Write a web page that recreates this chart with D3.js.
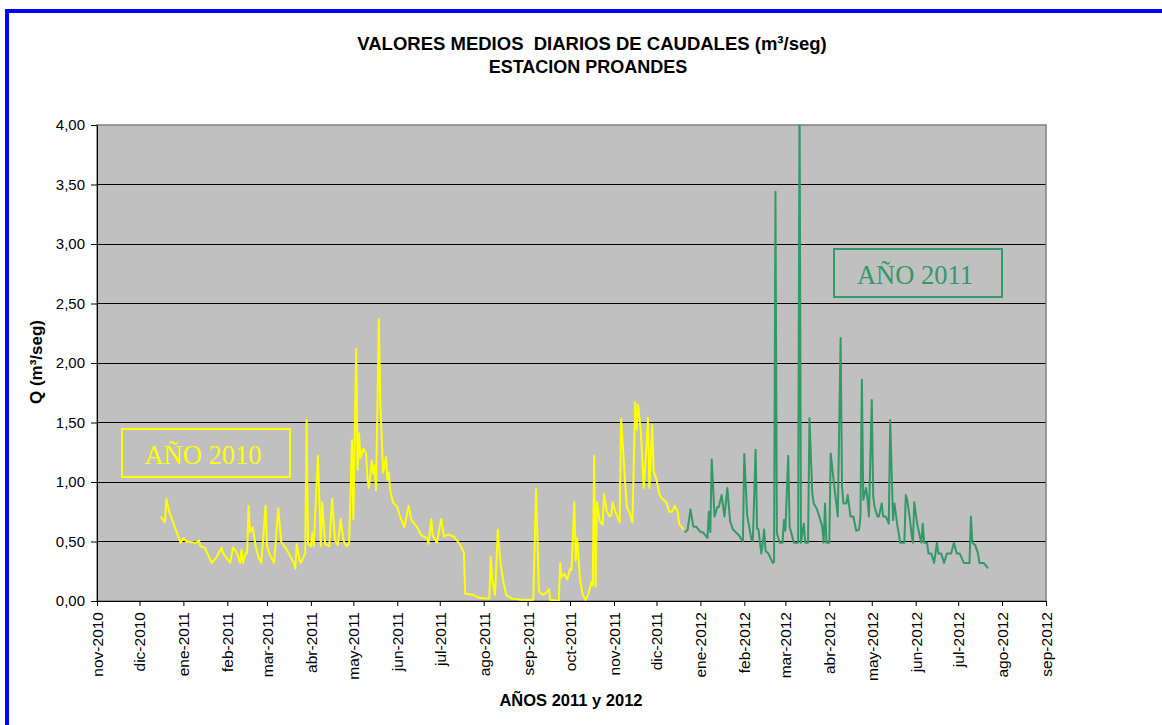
<!DOCTYPE html>
<html>
<head>
<meta charset="utf-8">
<script src="https://cdn.jsdelivr.net/npm/d3@7/dist/d3.min.js"></script>
<style>
  html, body { margin: 0; padding: 0; background: #ffffff; }
  svg { display: block; }
</style>
</head>
<body>
<svg id="chart" width="1162" height="725"></svg>
<script>
// ---------------- DATA ----------------
const startDate = new Date(2010, 10, 1); // day 0 = 1-nov-2010

const monthLabels = ["nov-2010","dic-2010","ene-2011","feb-2011","mar-2011","abr-2011",
  "may-2011","jun-2011","jul-2011","ago-2011","sep-2011","oct-2011","nov-2011","dic-2011",
  "ene-2012","feb-2012","mar-2012","abr-2012","may-2012","jun-2012","jul-2012","ago-2012","sep-2012"];

const yTicks = [0, 0.5, 1, 1.5, 2, 2.5, 3, 3.5, 4];
const yTickLabels = ["0,00","0,50","1,00","1,50","2,00","2,50","3,00","3,50","4,00"];

// Series "AÑO 2010" (yellow): day offsets from startDate and daily mean flow (m3/s)
const yellowDays = [
  45,48,49,51,55,59,61,63,70,72,
  73,76,81,84,88,89,94,96,99,101,
  102,103,105,106,107,108,110,112,114,116,
  119,120,122,125,128,130,134,139,140,141,
  143,144,147,148,149,151,152,153,156,158,
  159,161,164,166,168,170,172,174,176,178,
  180,181,183,184,185,186,188,190,191,192,
  194,195,196,197,199,200,202,204,205,206,
  207,209,212,214,217,219,220,222,226,229,
  233,234,236,237,240,243,245,248,252,256,
  259,260,266,269,275,277,278,279,281,283,
  285,287,289,293,300,306,308,310,312,315,
  318,319,320,326,327,328,330,332,334,335,
  337,338,339,341,343,345,347,349,350,351,
  352,353,355,357,358,360,362,363,364,366,
  369,370,372,374,376,378,380,381,382,384,
  386,388,389,390,392,393,395,397,399,402,
  404,406,408,410,411,414];
const yellowValues = [
  0.71,0.66,0.86,0.75,0.62,0.49,0.53,0.50,0.49,0.51,
  0.46,0.45,0.32,0.36,0.45,0.40,0.32,0.45,0.40,0.32,
  0.43,0.32,0.41,0.40,0.80,0.58,0.62,0.46,0.37,0.32,
  0.80,0.46,0.39,0.32,0.78,0.50,0.43,0.32,0.27,0.48,
  0.34,0.32,0.40,1.52,0.48,0.46,0.57,0.46,1.22,0.46,
  0.83,0.48,0.46,0.86,0.51,0.47,0.69,0.51,0.46,0.48,
  1.35,0.69,2.12,1.10,1.41,1.20,1.28,1.24,1.02,0.95,
  1.18,1.07,1.14,0.93,2.37,1.66,1.08,1.21,1.02,1.08,
  0.93,0.83,0.79,0.71,0.62,0.74,0.80,0.68,0.62,0.55,
  0.53,0.48,0.69,0.55,0.49,0.69,0.54,0.56,0.54,0.48,
  0.41,0.06,0.05,0.03,0.02,0.02,0.37,0.18,0.05,0.60,
  0.30,0.16,0.05,0.02,0.01,0.01,0.01,0.94,0.08,0.05,
  0.08,0.10,0.01,0.00,0.32,0.20,0.23,0.18,0.27,0.26,
  0.83,0.34,0.53,0.18,0.05,0.01,0.06,0.16,0.13,1.22,
  0.12,0.83,0.67,0.64,0.90,0.75,0.71,0.72,0.83,0.75,
  0.66,1.53,1.16,0.79,0.74,0.66,1.67,1.44,1.65,1.42,
  0.95,1.32,1.54,0.95,1.48,1.09,1.02,0.90,0.86,0.83,
  0.75,0.75,0.80,0.75,0.65,0.60];

// Series "AÑO 2011" (green)
const greenDays = [
  415,417,419,421,423,426,428,431,432,433,
  434,436,438,439,441,443,445,447,449,453,
  456,457,459,462,463,465,466,467,469,470,
  471,472,474,477,478,479,480,482,484,485,
  486,488,489,492,495,496,497,499,500,502,
  503,505,506,508,510,512,513,514,515,517,
  518,520,523,525,526,527,529,530,532,534,
  536,538,539,540,541,543,544,545,547,548,
  549,551,552,554,555,557,559,560,562,563,
  565,566,567,570,571,572,574,575,576,577,
  579,581,582,583,584,586,587,589,591,593,
  594,596,598,600,603,605,607,609,612,616,
  617,618,620,622,623,626,628,629];
const greenValues = [
  0.575,0.60,0.77,0.625,0.625,0.58,0.575,0.53,0.75,0.58,
  1.19,0.71,0.79,0.79,0.89,0.71,0.95,0.67,0.60,0.555,
  0.50,1.235,0.72,0.52,0.50,1.27,0.61,0.60,0.40,0.485,
  0.60,0.42,0.40,0.32,0.33,3.44,0.57,0.49,0.49,0.68,
  0.59,1.22,0.625,0.49,0.49,4.30,0.49,0.65,0.49,0.49,
  1.535,0.905,0.82,0.78,0.71,0.625,0.49,0.82,0.49,0.49,
  1.24,1.02,0.71,2.21,0.96,0.82,0.82,0.89,0.71,0.71,
  0.59,0.60,0.71,1.86,0.85,0.95,0.85,0.71,1.69,0.88,
  0.79,0.71,0.71,0.82,0.71,0.71,0.65,1.52,0.68,0.82,
  0.64,0.57,0.49,0.49,0.89,0.85,0.68,0.57,0.49,0.83,
  0.65,0.54,0.49,0.65,0.49,0.49,0.40,0.40,0.32,0.49,
  0.40,0.40,0.32,0.40,0.40,0.49,0.40,0.40,0.32,0.32,
  0.71,0.49,0.47,0.40,0.32,0.32,0.29,0.275];

// ---------------- LAYOUT ----------------
const plot = { left: 97, right: 1046, top: 125, bottom: 601 };
const FONT = "Arial, 'Liberation Sans', Helvetica, sans-serif";
const SERIF = "'Times New Roman', 'Liberation Serif', serif";
const YELLOW = "#FFFF00", GREEN = "#339966";

const svg = d3.select("#chart");

const x = d3.scaleTime()
  .domain([startDate, new Date(2012, 8, 1)])
  .range([plot.left, plot.right]);
const y = d3.scaleLinear().domain([0, 4]).range([plot.bottom, plot.top]);

const toSeries = (days, vals) => days.map((d, i) => ({ date: d3.timeDay.offset(startDate, d), v: vals[i] }));
const yellowSeries = toSeries(yellowDays, yellowValues);
const greenSeries = toSeries(greenDays, greenValues);

// outer blue frame (runs off the right/bottom edge like the reference)
svg.append("rect").attr("x", 7).attr("y", 11).attr("width", 1300).attr("height", 900)
  .attr("fill", "none").attr("stroke", "#0000FF").attr("stroke-width", 4);

// title
svg.append("text").attr("x", 592).attr("y", 50).attr("text-anchor", "middle")
  .attr("font-family", FONT).attr("font-weight", "bold").attr("font-size", 18.5)
  .style("white-space", "pre")
  .text("VALORES MEDIOS  DIARIOS DE CAUDALES (m³/seg)");
svg.append("text").attr("x", 588).attr("y", 73).attr("text-anchor", "middle")
  .attr("font-family", FONT).attr("font-weight", "bold").attr("font-size", 18)
  .text("ESTACION PROANDES");

// plot area
svg.append("rect").attr("x", plot.left).attr("y", plot.top)
  .attr("width", plot.right - plot.left).attr("height", plot.bottom - plot.top)
  .attr("fill", "#C0C0C0");

// gridlines
svg.append("g").selectAll("line").data(yTicks.filter(t => t > 0 && t < 4)).join("line")
  .attr("x1", plot.left).attr("x2", plot.right)
  .attr("y1", d => y(d)).attr("y2", d => y(d))
  .attr("stroke", "#000000").attr("stroke-width", 1).attr("shape-rendering", "crispEdges");

// border
svg.append("rect").attr("x", plot.left).attr("y", plot.top)
  .attr("width", plot.right - plot.left).attr("height", plot.bottom - plot.top)
  .attr("fill", "none").attr("stroke", "#808080").attr("stroke-width", 1.5);

// clip
svg.append("clipPath").attr("id", "clip").append("rect")
  .attr("x", plot.left).attr("y", plot.top)
  .attr("width", plot.right - plot.left).attr("height", plot.bottom - plot.top);

const line = d3.line().x(d => x(d.date)).y(d => y(d.v));
const lines = svg.append("g").attr("clip-path", "url(#clip)");
lines.append("path").datum(yellowSeries).attr("d", line)
  .attr("fill", "none").attr("stroke", YELLOW).attr("stroke-width", 2).attr("stroke-linejoin", "round");
lines.append("path").datum(greenSeries).attr("d", line)
  .attr("fill", "none").attr("stroke", GREEN).attr("stroke-width", 2).attr("stroke-linejoin", "round");

// y axis
const yAxis = svg.append("g").attr("transform", `translate(${plot.left},0)`)
  .call(d3.axisLeft(y).tickValues(yTicks).tickSize(6).tickSizeOuter(0).tickPadding(6)
    .tickFormat((d, i) => yTickLabels[i]));
yAxis.selectAll("text").attr("font-family", FONT).attr("font-size", 15).attr("fill", "#000");
yAxis.selectAll("line, path").attr("stroke", "#000");

// x axis
const monthDates = d3.timeMonth.range(startDate, new Date(2012, 8, 2));
const xAxis = svg.append("g").attr("transform", `translate(0,${plot.bottom})`)
  .call(d3.axisBottom(x).tickValues(monthDates).tickSize(5).tickSizeOuter(0)
    .tickFormat((d, i) => monthLabels[i]));
xAxis.selectAll("text")
  .attr("transform", "rotate(-90)").attr("text-anchor", "end")
  .attr("x", -11).attr("y", 0).attr("dy", "0.35em")
  .attr("font-family", FONT).attr("font-size", 15.5).attr("fill", "#000");
xAxis.selectAll("line, path").attr("stroke", "#000");

// axis titles
svg.append("text").attr("transform", "translate(42,362) rotate(-90)").attr("text-anchor", "middle")
  .attr("font-family", FONT).attr("font-weight", "bold").attr("font-size", 17)
  .text("Q (m³/seg)");
svg.append("text").attr("x", 571).attr("y", 706).attr("text-anchor", "middle")
  .attr("font-family", FONT).attr("font-weight", "bold").attr("font-size", 16.5)
  .text("AÑOS 2011 y 2012");

// labelled boxes
const boxes = [
  { label: "AÑO 2010", color: YELLOW, x: 122, y: 429, w: 168, h: 48 },
  { label: "AÑO 2011", color: GREEN, x: 834, y: 249, w: 168, h: 48 }
];
const bg = svg.append("g").selectAll("g").data(boxes).join("g");
bg.append("rect").attr("x", d => d.x).attr("y", d => d.y).attr("width", d => d.w).attr("height", d => d.h)
  .attr("fill", "none").attr("stroke", d => d.color).attr("stroke-width", 2);
bg.append("text").attr("x", d => d.x + d.w / 2 - 3).attr("y", d => d.y + 35)
  .attr("text-anchor", "middle").attr("font-family", SERIF).attr("font-size", 26.5)
  .attr("fill", d => d.color).text(d => d.label);
</script>
</body>
</html>
